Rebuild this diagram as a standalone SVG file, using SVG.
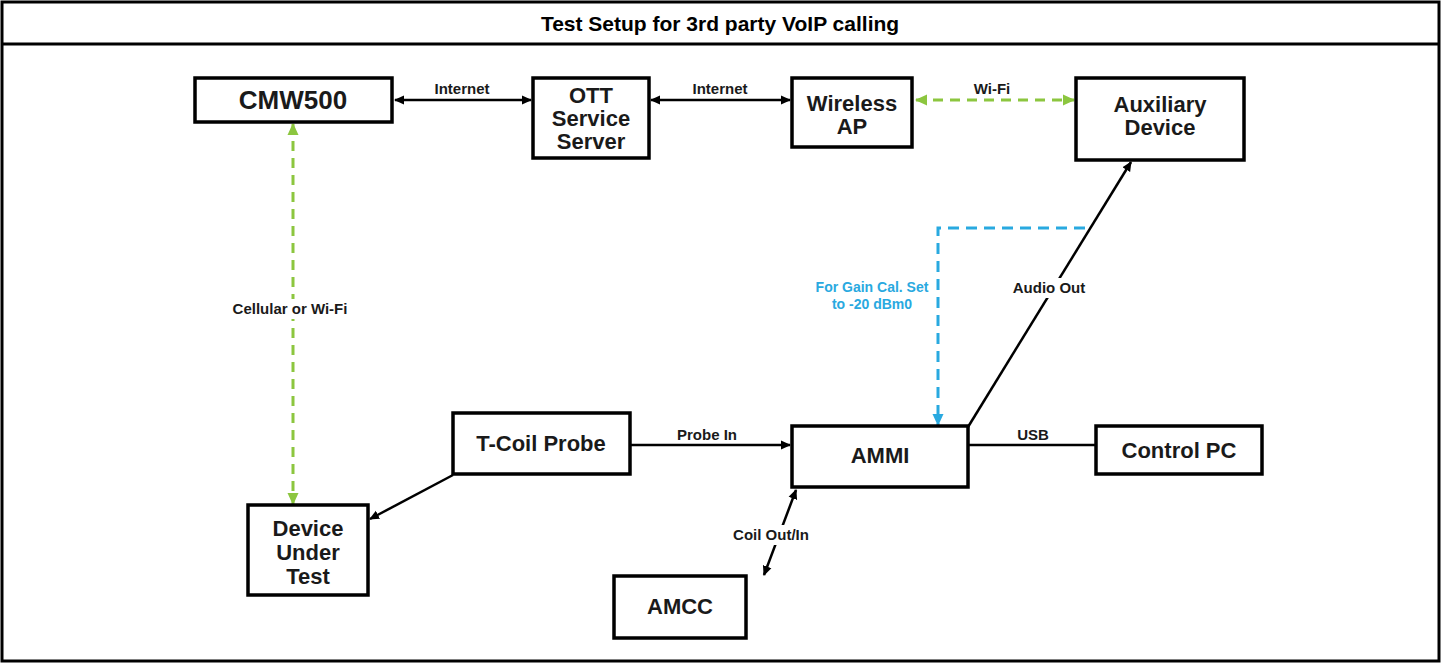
<svg xmlns="http://www.w3.org/2000/svg" width="1441" height="664" viewBox="0 0 1441 664">
<style>
  .box { fill: #ffffff; stroke: #000000; stroke-width: 3.5; }
  .nt { font-family: "Liberation Sans", Arial, sans-serif; font-weight: bold; font-size: 22px; fill: #1a1a1a; text-anchor: middle; }
  .big { font-size: 26px; }
  .el { font-family: "Liberation Sans", Arial, sans-serif; font-weight: bold; font-size: 15px; fill: #1a1a1a; text-anchor: middle; }
  .bl { font-family: "Liberation Sans", Arial, sans-serif; font-weight: bold; font-size: 14px; fill: #29a9e0; text-anchor: middle; }
  .blk { fill: none; stroke: #000000; stroke-width: 2.5; }
  .grn { fill: none; stroke: #8cc63f; stroke-width: 3; stroke-dasharray: 10 7; }
  .blu { fill: none; stroke: #29a9e0; stroke-width: 3; stroke-dasharray: 11 7; }
</style>
<defs>
  <marker id="ab" markerWidth="10" markerHeight="10" refX="9" refY="5" orient="auto-start-reverse" markerUnits="userSpaceOnUse">
    <path d="M0,0.5 L10,5 L0,9.5 Z" fill="#000000"/>
  </marker>
  <marker id="ag" markerWidth="12" markerHeight="12" refX="11" refY="6" orient="auto-start-reverse" markerUnits="userSpaceOnUse">
    <path d="M0,0.5 L12,6 L0,11.5 Z" fill="#8cc63f"/>
  </marker>
  <marker id="au" markerWidth="12" markerHeight="12" refX="11" refY="6" orient="auto-start-reverse" markerUnits="userSpaceOnUse">
    <path d="M0,0.5 L12,6 L0,11.5 Z" fill="#29a9e0"/>
  </marker>
</defs>

<rect x="0" y="0" width="1441" height="664" fill="#ffffff"/>
<g id="frame">
  <rect x="2" y="2" width="1437" height="659" fill="none" stroke="#000" stroke-width="3"/>
  <line x1="2" y1="44" x2="1439" y2="44" stroke="#000" stroke-width="3"/>
  <text x="720" y="31" font-family="Liberation Sans, Arial, sans-serif" font-weight="bold" font-size="21" text-anchor="middle" fill="#000">Test Setup for 3rd party VoIP calling</text>
</g>

<g id="connectors">
  <line class="blk" x1="395" y1="100" x2="531" y2="100" marker-start="url(#ab)" marker-end="url(#ab)"/>
  <text class="el" x="462" y="94">Internet</text>
  <line class="blk" x1="651" y1="100" x2="790" y2="100" marker-start="url(#ab)" marker-end="url(#ab)"/>
  <text class="el" x="720" y="94">Internet</text>
  <line class="grn" x1="916" y1="100" x2="1074" y2="100" marker-start="url(#ag)" marker-end="url(#ag)"/>
  <text class="el" x="992" y="94">Wi-Fi</text>
  <line class="grn" x1="293" y1="124" x2="293" y2="504" marker-start="url(#ag)" marker-end="url(#ag)"/>
  <rect x="222" y="299" width="138" height="20" fill="#ffffff"/>
  <text class="el" x="290" y="314">Cellular or Wi-Fi</text>
  <line class="blk" x1="453" y1="475" x2="370" y2="519" marker-end="url(#ab)"/>
  <line class="blk" x1="631" y1="445" x2="790" y2="445" marker-end="url(#ab)"/>
  <text class="el" x="707" y="440">Probe In</text>
  <line class="blk" x1="968" y1="427" x2="1131" y2="162" marker-end="url(#ab)"/>
  <rect x="1007" y="278" width="84" height="20" fill="#ffffff"/>
  <text class="el" x="1049" y="293">Audio Out</text>
  <path class="blu" d="M1085,228 H938 V425" marker-end="url(#au)"/>
  <text class="bl" x="872" y="292">For Gain Cal. Set</text>
  <text class="bl" x="872" y="309">to -20 dBm0</text>
  <line class="blk" x1="969" y1="445" x2="1096" y2="445"/>
  <text class="el" x="1033" y="440">USB</text>
  <line class="blk" x1="796" y1="490" x2="764" y2="575" marker-start="url(#ab)" marker-end="url(#ab)"/>
  <rect x="727" y="525" width="88" height="20" fill="#ffffff"/>
  <text class="el" x="771" y="540">Coil Out/In</text>
</g>

<g id="cmw500">
  <rect class="box" x="195" y="78" width="197" height="44"/>
  <text class="nt big" x="293" y="109">CMW500</text>
</g>
<g id="ott">
  <rect class="box" x="533" y="78" width="116" height="80"/>
  <text class="nt" x="591" y="103">OTT</text>
  <text class="nt" x="591" y="126">Service</text>
  <text class="nt" x="591" y="149">Server</text>
</g>
<g id="wireless-ap">
  <rect class="box" x="792" y="78" width="120" height="69"/>
  <text class="nt" x="852" y="111">Wireless</text>
  <text class="nt" x="852" y="134">AP</text>
</g>
<g id="auxiliary">
  <rect class="box" x="1076" y="78" width="168" height="82"/>
  <text class="nt" x="1160" y="112">Auxiliary</text>
  <text class="nt" x="1160" y="135">Device</text>
</g>
<g id="tcoil">
  <rect class="box" x="453" y="413" width="177" height="61"/>
  <text class="nt" x="541" y="451">T-Coil Probe</text>
</g>
<g id="dut">
  <rect class="box" x="248" y="505" width="120" height="90"/>
  <text class="nt" x="308" y="536">Device</text>
  <text class="nt" x="308" y="560">Under</text>
  <text class="nt" x="308" y="584">Test</text>
</g>
<g id="ammi">
  <rect class="box" x="792" y="426" width="176" height="61"/>
  <text class="nt" x="880" y="463">AMMI</text>
</g>
<g id="control-pc">
  <rect class="box" x="1096" y="426" width="166" height="48"/>
  <text class="nt" x="1179" y="458">Control PC</text>
</g>
<g id="amcc">
  <rect class="box" x="614" y="576" width="132" height="62"/>
  <text class="nt" x="680" y="614">AMCC</text>
</g>
</svg>
